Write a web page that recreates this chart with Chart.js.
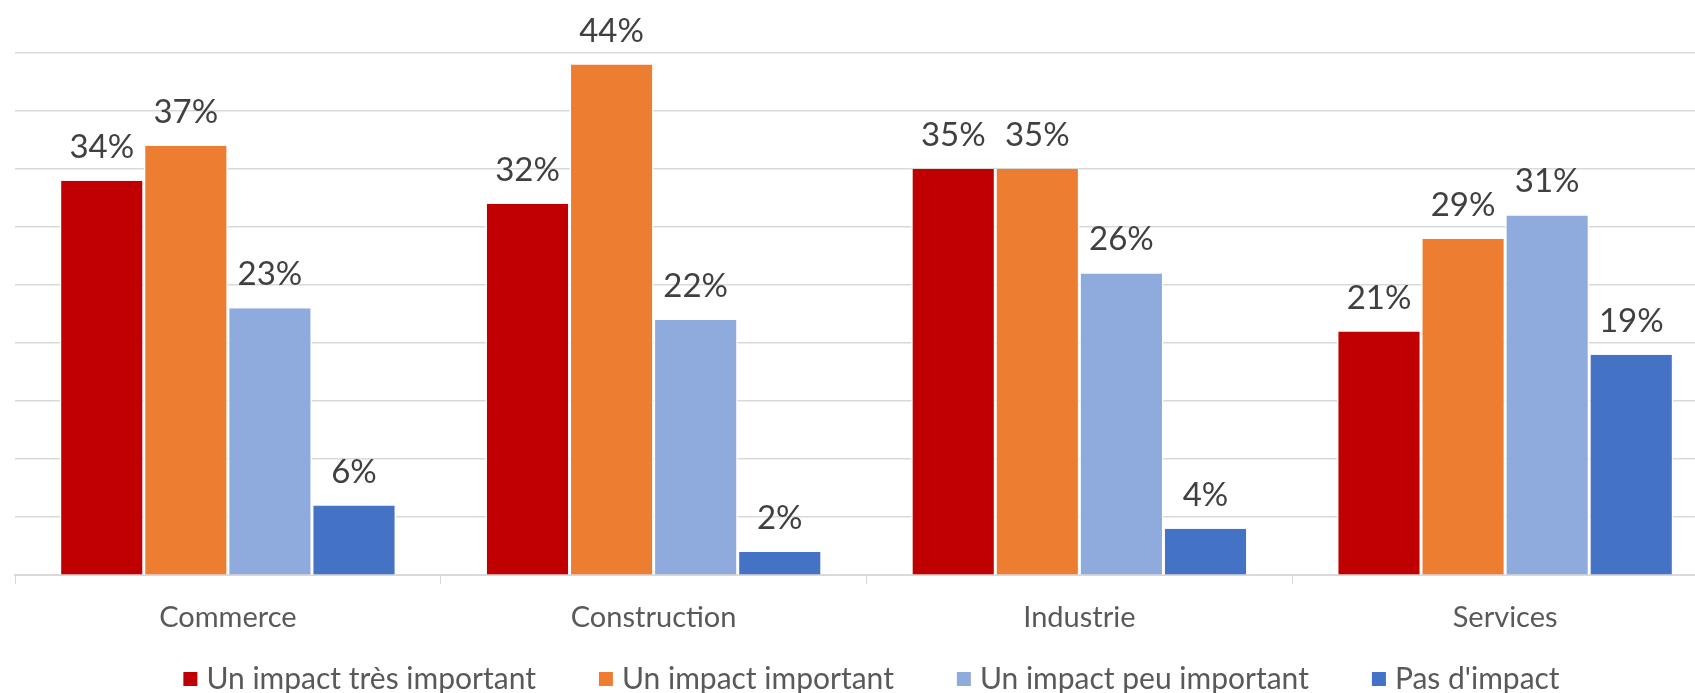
<!DOCTYPE html>
<html>
<head>
<meta charset="utf-8">
<script src="https://cdn.jsdelivr.net/npm/chart.js@4/dist/chart.umd.min.js"></script>
<style>
    html, body { margin: 0; padding: 0; background: #fff; overflow: hidden; }
    #wrap { position: absolute; left: 0; top: 0; }
</style>
</head>
<body>
<div id="wrap"><canvas id="chart" width="1730" height="693"></canvas></div>
<script>
// Données
const categories = ['Commerce', 'Construction', 'Industrie', 'Services'];
const seriesNames = ['Un impact très important', 'Un impact important', 'Un impact peu important', "Pas d'impact"];
const tresImportant = [34, 32, 35, 21];
const important = [37, 44, 35, 29];
const peuImportant = [23, 22, 26, 31];
const pasImpact = [6, 2, 4, 19];
const colors = ['#C00000', '#ED7D31', '#8FAADC', '#4472C4'];

const FONT = 'Lato, "Open Sans", sans-serif';

// Étiquettes au-dessus des barres
const barLabels = {
    id: 'barLabels',
    afterDatasetsDraw(chart) {
        const ctx = chart.ctx;
        ctx.save();
        ctx.font = '33px ' + FONT;
        ctx.fillStyle = '#404040';
        ctx.textAlign = 'center';
        ctx.textBaseline = 'alphabetic';
        chart.data.datasets.forEach(function(ds, i) {
            const meta = chart.getDatasetMeta(i);
            meta.data.forEach(function(bar, j) {
                ctx.fillText(Math.round(ds.data[j]) + '%', bar.x, bar.y - 23);
            });
        });
        ctx.restore();
    }
};

// Légende en bas (espacement comme dans Excel)
const bottomLegend = {
    id: 'bottomLegend',
    afterDraw(chart) {
        const ctx = chart.ctx;
        const area = chart.chartArea;
        const box = 14, boxGap = 9, itemGap = 63;
        ctx.save();
        ctx.font = '30px ' + FONT;
        ctx.textBaseline = 'middle';
        ctx.textAlign = 'left';
        const items = chart.data.datasets.map(function(ds) {
            return { text: ds.label, color: ds.backgroundColor, w: box + boxGap + ctx.measureText(ds.label).width };
        });
        let total = items.reduce(function(s, it) { return s + it.w; }, 0) + itemGap * (items.length - 1);
        let x = (area.left + area.right) / 2 - total / 2 + 5;
        const y = chart.height - 14;
        items.forEach(function(it) {
            ctx.fillStyle = it.color;
            ctx.fillRect(x, y - box / 2, box, box);
            ctx.fillStyle = '#595959';
            ctx.fillText(it.text, x + box + boxGap, y);
            x += it.w + itemGap;
        });
        ctx.restore();
    }
};

const allSeries = [tresImportant, important, peuImportant, pasImpact];

new Chart(document.getElementById('chart'), {
    type: 'bar',
    data: {
        labels: categories,
        datasets: allSeries.map(function(values, i) {
            return {
                label: seriesNames[i],
                data: values,
                backgroundColor: colors[i],
                borderColor: '#ffffff',
                borderWidth: { left: 1.5, right: 1.5, top: 0, bottom: 0 },
                borderSkipped: false,
                categoryPercentage: 0.79,
                barPercentage: 1.0
            };
        })
    },
    options: {
        responsive: false,
        animation: false,
        layout: { padding: { left: 15, right: 12, top: 53, bottom: 42 } },
        scales: {
            x: {
                grid: {
                    display: true,
                    drawOnChartArea: false,
                    drawTicks: true,
                    tickLength: 9,
                    color: '#D9D9D9',
                    offset: true
                },
                border: { display: true, color: '#D9D9D9', width: 2 },
                ticks: {
                    font: { family: FONT, size: 29 },
                    color: '#595959',
                    padding: 16
                }
            },
            y: {
                min: 0,
                max: 45,
                ticks: { display: false, stepSize: 5 },
                border: { display: false },
                grid: { color: '#D9D9D9', lineWidth: 1.5, drawTicks: false },
                afterFit: function(scale) { scale.width = 0; }
            }
        },
        plugins: {
            legend: { display: false },
            tooltip: { enabled: false }
        }
    },
    plugins: [barLabels, bottomLegend]
});
</script>
</body>
</html>
